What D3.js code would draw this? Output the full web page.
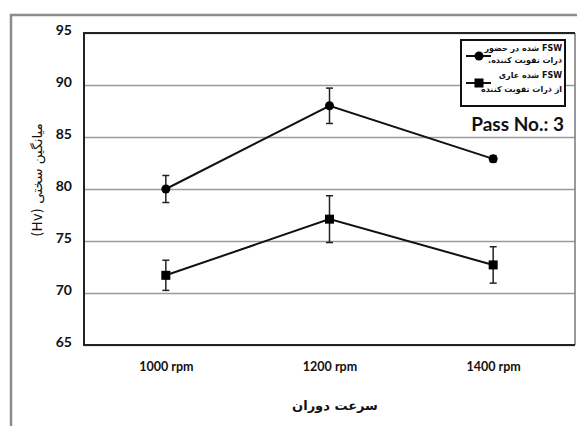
<!DOCTYPE html>
<html>
<head>
<meta charset="utf-8">
<script src="https://cdn.jsdelivr.net/npm/d3@7"></script>
<style>
  html, body { margin: 0; padding: 0; background: #fff; }
  svg { display: block; }
</style>
</head>
<body>
<svg id="chart" width="577" height="426"></svg>
<script>
// Rotation speeds (categories)
const categories = ["1000 rpm", "1200 rpm", "1400 rpm"];
// Mean hardness (Hv) with particles, and its error
const withParticles = [80.0, 88.0, 82.9];
const withParticlesErr = [1.3, 1.7, 0.3];
// Mean hardness (Hv) without particles, and its error
const withoutParticles = [71.7, 77.1, 72.7];
const withoutParticlesErr = [1.45, 2.25, 1.75];
// Y ticks
const yTicks = [65, 70, 75, 80, 85, 90, 95];

const svg = d3.select("#chart");
const W = 577, H = 426;
const plot = { left: 84, right: 575, top: 33, bottom: 345 };

const x = d3.scalePoint().domain(categories).range([plot.left, plot.right]).padding(0.5);
const y = d3.scaleLinear().domain([65, 95]).range([plot.bottom, plot.top]);

const latin = "Lato, 'Open Sans', sans-serif";
const arabic = "'DejaVu Sans', sans-serif";

// Outer frame (top and left edges)
svg.append("path")
  .attr("d", `M11,${H} L11,15 L${W},15`)
  .attr("fill", "none").attr("stroke", "#8c8c8c").attr("stroke-width", 2.5);

// Horizontal gridlines
const yAxis = d3.axisLeft(y).tickValues(yTicks).tickSize(-(plot.right - plot.left)).tickFormat(d3.format("d"));
const gy = svg.append("g").attr("transform", `translate(${plot.left},0)`).call(yAxis);
gy.select(".domain").remove();
gy.selectAll(".tick line").attr("stroke", "#9a9a9a").attr("stroke-width", 1.6);
gy.selectAll(".tick text")
  .attr("x", -12).attr("dy", "0.1em")
  .attr("font-family", latin).attr("font-weight", 700).attr("font-size", 14).attr("fill", "#111");

// Plot frame
svg.append("line").attr("x1", plot.right).attr("x2", plot.right).attr("y1", plot.top).attr("y2", plot.bottom)
  .attr("stroke", "#777").attr("stroke-width", 1.5);
svg.append("path")
  .attr("d", `M${plot.right},${plot.top} L${plot.left},${plot.top} L${plot.left},${plot.bottom} L${plot.right},${plot.bottom}`)
  .attr("fill", "none").attr("stroke", "#222").attr("stroke-width", 2);

// X axis labels
const xAxis = d3.axisBottom(x).tickSize(0).tickPadding(17);
const gx = svg.append("g").attr("transform", `translate(0,${plot.bottom})`).call(xAxis);
gx.select(".domain").remove();
gx.selectAll(".tick text")
  .attr("font-family", latin).attr("font-weight", 700).attr("font-size", 12.5).attr("fill", "#111");

// Axis titles
svg.append("text")
  .attr("x", 335).attr("y", 410).attr("text-anchor", "middle")
  .attr("font-family", arabic).attr("font-weight", 700).attr("font-size", 13).attr("fill", "#111")
  .text("سرعت دوران");
svg.append("text")
  .attr("transform", "translate(42,180) rotate(-90)").attr("text-anchor", "middle")
  .attr("direction", "rtl")
  .attr("font-family", arabic).attr("font-size", 13.5).attr("fill", "#111")
  .text("میانگین سختی (Hv)");

// Series
const series = [
  { values: withParticles, err: withParticlesErr, marker: "circle" },
  { values: withoutParticles, err: withoutParticlesErr, marker: "square" }
];
const line = d3.line().x((d, i) => x(categories[i])).y(d => y(d));

series.forEach(s => {
  const g = svg.append("g");
  g.append("path").attr("d", line(s.values))
    .attr("fill", "none").attr("stroke", "#111").attr("stroke-width", 2);
  s.values.forEach((v, i) => {
    const cx = x(categories[i]);
    const e = s.err[i];
    const eb = g.append("g").attr("stroke", "#222").attr("stroke-width", 1.5);
    eb.append("line").attr("x1", cx).attr("x2", cx).attr("y1", y(v + e)).attr("y2", y(v - e));
    eb.append("line").attr("x1", cx - 3.5).attr("x2", cx + 3.5).attr("y1", y(v + e)).attr("y2", y(v + e));
    eb.append("line").attr("x1", cx - 3.5).attr("x2", cx + 3.5).attr("y1", y(v - e)).attr("y2", y(v - e));
    if (s.marker === "circle") {
      g.append("circle").attr("cx", cx).attr("cy", y(v)).attr("r", 4.5).attr("fill", "#000");
    } else {
      g.append("rect").attr("x", cx - 4.5).attr("y", y(v) - 4.5).attr("width", 9).attr("height", 9).attr("fill", "#000");
    }
  });
});

// Legend
const lg = svg.append("g");
lg.append("rect").attr("x", 461).attr("y", 40).attr("width", 104).attr("height", 66)
  .attr("fill", "#fff").attr("stroke", "#111").attr("stroke-width", 2);
const legendItems = [
  { marker: "circle", cy: 56, lines: ["FSW شده در حضور", "ذرات تقویت کننده."], ty: [51, 63] },
  { marker: "square", cy: 83, lines: ["FSW شده عاری", "از ذرات تقویت کننده"], ty: [78, 92] }
];
legendItems.forEach(it => {
  lg.append("line").attr("x1", 466).attr("x2", 491).attr("y1", it.cy).attr("y2", it.cy)
    .attr("stroke", "#111").attr("stroke-width", 2);
  if (it.marker === "circle") {
    lg.append("circle").attr("cx", 479).attr("cy", it.cy).attr("r", 4.5).attr("fill", "#000");
  } else {
    lg.append("rect").attr("x", 474.5).attr("y", it.cy - 4.5).attr("width", 9).attr("height", 9).attr("fill", "#000");
  }
  it.lines.forEach((t, j) => {
    lg.append("text").attr("x", 562).attr("y", it.ty[j]).attr("text-anchor", "start")
      .attr("direction", "rtl")
      .attr("font-family", arabic).attr("font-weight", 700).attr("font-size", 8).attr("fill", "#111")
      .text(t);
  });
});

// Pass label
svg.append("text")
  .attr("x", 564).attr("y", 131).attr("text-anchor", "end")
  .attr("font-family", latin).attr("font-weight", 700).attr("font-size", 19).attr("fill", "#111")
  .text("Pass No.: 3");
</script>
</body>
</html>
